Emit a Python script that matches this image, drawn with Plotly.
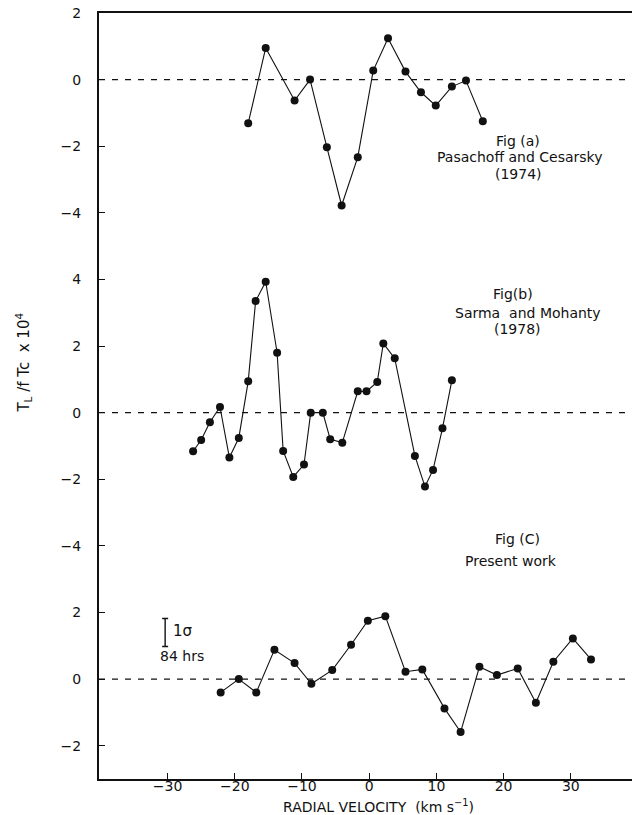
import plotly.graph_objects as go

# ---------------- data ----------------
# Fig (a) Pasachoff and Cesarsky (1974)
vel_a = [-18.0, -15.4, -11.1, -8.8, -6.3, -4.1, -1.7, 0.6, 2.8, 5.4, 7.7, 9.9, 12.3, 14.4, 16.9]
val_a = [-1.31, 0.95, -0.63, 0.0, -2.03, -3.78, -2.33, 0.27, 1.24, 0.24, -0.38, -0.78, -0.21, -0.03, -1.25]

# Fig (b) Sarma and Mohanty (1978)
vel_b = [-26.2, -25.0, -23.7, -22.2, -20.8, -19.4, -18.0, -16.9, -15.4, -13.7, -12.8, -11.3, -9.7,
         -8.7, -6.9, -5.8, -4.0, -1.7, -0.4, 1.2, 2.1, 3.8, 6.8, 8.3, 9.5, 10.9, 12.3]
val_b = [-1.16, -0.82, -0.29, 0.17, -1.35, -0.76, 0.94, 3.35, 3.93, 1.80, -1.15, -1.93, -1.56,
         0.0, 0.0, -0.80, -0.90, 0.64, 0.64, 0.92, 2.08, 1.63, -1.30, -2.22, -1.72, -0.47, 0.97]

# Fig (C) Present work
vel_c = [-22.1, -19.4, -16.8, -14.1, -11.1, -8.6, -5.5, -2.7, -0.2, 2.4, 5.4, 7.9, 11.2, 13.6,
         16.4, 19.0, 22.1, 24.8, 27.4, 30.3, 33.0]
val_c = [-0.40, 0.0, -0.40, 0.88, 0.48, -0.14, 0.27, 1.03, 1.75, 1.89, 0.22, 0.29, -0.88, -1.59,
         0.37, 0.12, 0.32, -0.71, 0.52, 1.22, 0.59]

# tick labels of each stacked panel
ticks_a = [-4, -2, 0, 2]
ticks_b = [-4, -2, 0, 2, 4]
ticks_c = [-2, 0, 2]
x_ticks = [-30, -20, -10, 0, 10, 20, 30]

sigma_1 = 0.42  # half of the 1-sigma (84 hrs) bar

# ---------------- layout constants ----------------
off_a, off_b, off_c = 18, 8, 0   # vertical offsets of the stacked panels
FONT = "DejaVu Sans"
BLACK = "#111111"

fig = go.Figure()

for vel, val, off in [(vel_a, val_a, off_a), (vel_b, val_b, off_b), (vel_c, val_c, off_c)]:
    fig.add_trace(go.Scatter(
        x=vel, y=[v + off for v in val], mode="lines+markers",
        line=dict(color=BLACK, width=1.1),
        marker=dict(color=BLACK, size=8),
        showlegend=False, hoverinfo="skip"))

# dashed zero lines
for off in (off_a, off_b, off_c):
    fig.add_shape(type="line", xref="paper", x0=0, x1=1, yref="y", y0=off, y1=off,
                  line=dict(color=BLACK, width=1.1, dash="6px,7px"))

# 1 sigma bar
fig.add_trace(go.Scatter(
    x=[-30.36], y=[off_c + 1.4], mode="markers",
    marker=dict(size=1, color="rgba(0,0,0,0)"),
    error_y=dict(type="data", array=[sigma_1], visible=True, color=BLACK, thickness=1.4, width=3),
    showlegend=False, hoverinfo="skip"))

tickvals, ticktext = [], []
for ticks, off in [(ticks_c, off_c), (ticks_b, off_b), (ticks_a, off_a)]:
    for t in ticks:
        tickvals.append(t + off)
        ticktext.append(str(t).replace("-", "\u2212"))

ann_font = dict(family=FONT, size=14, color=BLACK)
texts = [
    ("Fig (a)", 22.2, 16.15),
    ("Pasachoff and Cesarsky", 22.5, 15.67),
    ("(1974)", 22.2, 15.16),
    ("Fig(b)", 21.4, 11.55),
    ("Sarma  and Mohanty", 23.7, 10.98),
    ("(1978)", 22.0, 10.5),
    ("Fig (C)", 22.0, 4.2),
    ("Present work", 21.1, 3.56),
    ("84 hrs", -27.8, 0.68),
]
for t, x, y in texts:
    fig.add_annotation(text=t, x=x, y=y, xref="x", yref="y", showarrow=False,
                       font=ann_font, xanchor="center", yanchor="middle")
fig.add_annotation(text="1\u03c3", x=-29.5, y=1.43, xref="x", yref="y", showarrow=False,
                   font=dict(family=FONT, size=15, color=BLACK), xanchor="left", yanchor="middle")

# axis titles
fig.add_annotation(text="RADIAL VELOCITY  (km s<sup>\u22121</sup>)", x=0.525, y=-0.035,
                   xref="paper", yref="paper", showarrow=False,
                   font=dict(family=FONT, size=14, color=BLACK), xanchor="center", yanchor="middle")
fig.add_annotation(text="T<sub>L</sub> /f Tc  x 10<sup>4</sup>", x=-0.142, y=0.544,
                   xref="paper", yref="paper", showarrow=False, textangle=-90,
                   font=dict(family=FONT, size=15, color=BLACK), xanchor="center", yanchor="middle")

fig.update_layout(
    width=632, height=815,
    margin=dict(l=99, r=0, t=13, b=36),
    paper_bgcolor="white", plot_bgcolor="white",
    font=dict(family=FONT, size=14, color=BLACK),
    xaxis=dict(range=[-40.2, 39.1], tickvals=x_ticks,
               ticktext=[str(t).replace("-", "\u2212") for t in x_ticks],
               ticks="inside", ticklen=6, tickwidth=1.3, tickcolor=BLACK,
               ticklabelstandoff=-7,
               showline=True, linecolor=BLACK, linewidth=2, mirror=True,
               showgrid=False, zeroline=False, fixedrange=True),
    yaxis=dict(range=[-3, 20], tickvals=tickvals, ticktext=ticktext,
               ticks="inside", ticklen=6, tickwidth=1.3, tickcolor=BLACK,
               ticklabelstandoff=13,
               showline=True, linecolor=BLACK, linewidth=2,
               showgrid=False, zeroline=False, fixedrange=True),
)

fig.write_html("out.html", config={"displayModeBar": False},
               post_script="document.body.style.margin='0';document.body.style.overflow='hidden';")
